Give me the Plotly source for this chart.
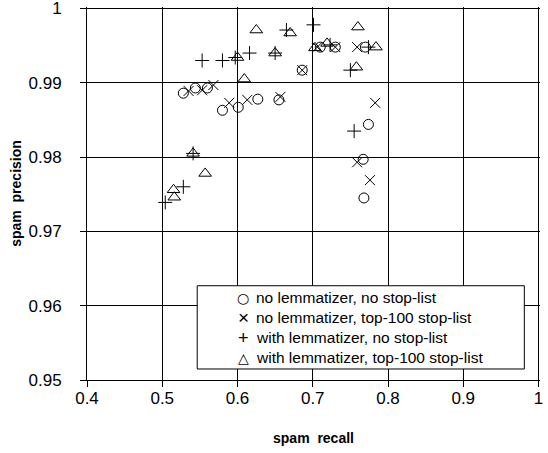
import plotly.graph_objects as go

# data (spam recall, spam precision)
nolem_nostop_recall = [0.528, 0.544, 0.560, 0.580, 0.601, 0.627, 0.655, 0.686,
                       0.710, 0.730, 0.770, 0.774, 0.767, 0.768]
nolem_nostop_precision = [0.9886, 0.9893, 0.9893, 0.9863, 0.9867, 0.9878, 0.9877, 0.9917,
                          0.9948, 0.9948, 0.9948, 0.9844, 0.9797, 0.9745]

nolem_top100_recall = [0.535, 0.553, 0.568, 0.589, 0.613, 0.657, 0.686, 0.706,
                       0.730, 0.759, 0.783, 0.759, 0.776]
nolem_top100_precision = [0.9889, 0.9890, 0.9897, 0.9873, 0.9877, 0.9881, 0.9917, 0.9948,
                          0.9948, 0.9948, 0.9873, 0.9793, 0.9769]

lem_nostop_recall = [0.504, 0.528, 0.541, 0.553, 0.580, 0.597, 0.616, 0.650,
                     0.665, 0.701, 0.723, 0.755, 0.750, 0.774]
lem_nostop_precision = [0.9739, 0.9760, 0.9805, 0.9930, 0.9930, 0.9934, 0.9940, 0.9940,
                        0.9971, 0.9978, 0.9951, 0.9835, 0.9917, 0.9948]

lem_top100_recall = [0.516, 0.515, 0.541, 0.557, 0.600, 0.609, 0.625, 0.650,
                     0.670, 0.703, 0.719, 0.760, 0.758, 0.784]
lem_top100_precision = [0.9746, 0.9756, 0.9805, 0.9778, 0.9934, 0.9905, 0.9971, 0.9940,
                        0.9967, 0.9947, 0.9953, 0.9975, 0.9921, 0.9948]

x_ticks = [0.4, 0.5, 0.6, 0.7, 0.8, 0.9, 1.0]
x_tick_labels = ["0.4", "0.5", "0.6", "0.7", "0.8", "0.9", "1"]
y_ticks = [0.95, 0.96, 0.97, 0.98, 0.99, 1.0]
y_tick_labels = ["0.95", "0.96", "0.97", "0.98", "0.99", "1"]

FONT = "Arial, Liberation Sans, sans-serif"

# name, x, y, marker symbol, marker size, legend glyph, glyph font, glyph size
series = [
    ("no lemmatizer, no stop-list", nolem_nostop_recall, nolem_nostop_precision,
     "circle-open", 10, "○", "DejaVu Sans", 14),
    ("no lemmatizer, top-100 stop-list", nolem_top100_recall, nolem_top100_precision,
     "x-thin-open", 10, "×", FONT, 19),
    ("with lemmatizer, no stop-list", lem_nostop_recall, lem_nostop_precision,
     "cross-thin-open", 10, "+", FONT, 18),
    ("with lemmatizer, top-100 stop-list", lem_top100_recall, lem_top100_precision,
     "triangle-up-open", 11, "△", "DejaVu Sans", 14),
]

fig = go.Figure()
for name, xs, ys, sym, size, *_ in series:
    fig.add_trace(go.Scatter(
        x=xs, y=ys, mode="markers", name=name, showlegend=False,
        marker=dict(symbol=sym, size=size, color="black",
                    line=dict(color="black", width=1)),
    ))

axis_common = dict(
    showgrid=True, gridcolor="black", gridwidth=1,
    showline=True, linecolor="black", linewidth=1, mirror=False,
    ticks="outside", ticklen=6, tickcolor="black",
    tickfont=dict(family=FONT, size=17, color="black"),
    ticklabeloverflow="allow",
    zeroline=False, automargin=False,
)

# legend: frame + one row per series (plotly's own legend rows are too tall here)
fig.add_shape(type="rect", xref="paper", yref="paper",
              x0=0.2433, x1=0.9654, y0=0.0295, y1=0.2527,
              line=dict(color="black", width=1), fillcolor="white", layer="above")
row_top = 0.2205
row_step = 0.0536
for i, (name, *_, glyph, gfont, gsize) in enumerate(series):
    yy = row_top - i * row_step
    fig.add_annotation(xref="paper", yref="paper", x=0.3448, y=yy,
                       xanchor="center", yanchor="middle", showarrow=False,
                       text=glyph, font=dict(family=gfont, size=gsize, color="black"))
    fig.add_annotation(xref="paper", yref="paper", x=0.3691, y=yy,
                       xanchor="left", yanchor="middle", showarrow=False,
                       text=name, font=dict(family=FONT, size=15.5, color="black"))

# ranges run a hair past 1 so the last grid lines and labels are kept
fig.update_layout(
    width=548, height=453,
    margin=dict(l=86.7, r=8, t=6.8, b=73),
    paper_bgcolor="white", plot_bgcolor="white",
    font=dict(family=FONT, color="black"),
    xaxis=dict(range=[0.4, 1.002], tickvals=x_ticks, ticktext=x_tick_labels,
               ticklabelstandoff=-3,
               title=dict(text="<b>spam  recall</b>", font=dict(size=14), standoff=25),
               **axis_common),
    yaxis=dict(range=[0.95, 1.0002], tickvals=y_ticks, ticktext=y_tick_labels,
               ticklabelstandoff=15,
               title=dict(text="<b>spam  precision</b>", font=dict(size=14), standoff=3),
               **axis_common),
    showlegend=False,
)

# drop the page's default body margin so the figure sits at the window corner
fig.write_html("out.html", config={"displayModeBar": False},
               post_script="document.body.style.margin = '0';")
